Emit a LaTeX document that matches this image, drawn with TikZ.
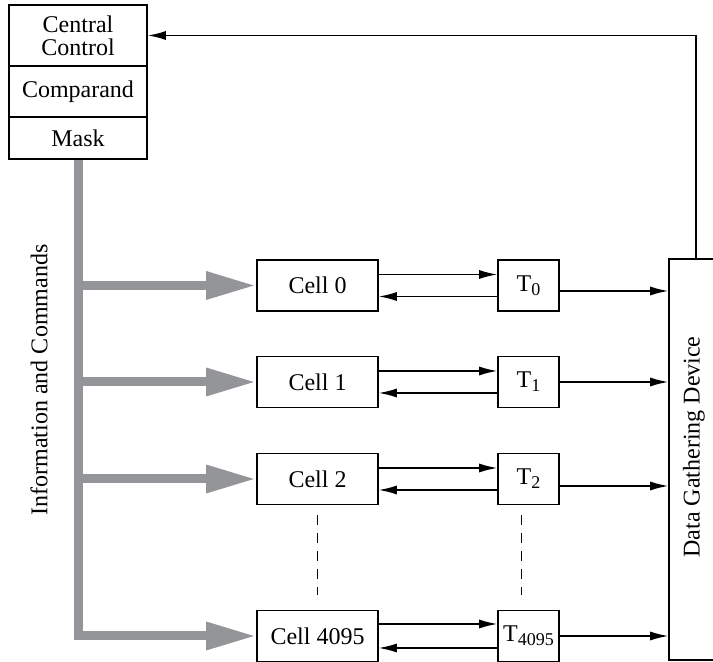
\documentclass[tikz,border=0pt]{standalone}
\usepackage{fontspec}
\setmainfont{Liberation Serif}
\usetikzlibrary{arrows.meta}

\definecolor{busgray}{RGB}{148,149,153}
\tikzset{
  box/.style={draw, black, line width=0.8pt, inner sep=0pt, align=center, font=\fontsize{12}{11.5}\selectfont},
  cellbox/.style={box, minimum width=60.5pt, minimum height=25.5pt},
  tbox/.style={box, minimum width=30.5pt, minimum height=25.5pt},
  bus/.style={busgray, line width=4.5pt, -{Triangle[length=25pt,width=13pt]}},
  sig/.style={black, line width=0.7pt, ->},
  rowlink/.style={black, line width=0.7pt, dash pattern=on 5pt off 4pt},
}
\newcommand{\tname}[1]{T\raisebox{-2pt}{\fontsize{9}{9}\selectfont #1}}

\begin{document}
\begin{tikzpicture}[x=0.5pt, y=-0.5pt, >={Latex[length=9pt,width=4.5pt]}]
 \useasboundingbox (0,0) rectangle (713,662);
 %control unit
 \node[box, minimum width=69pt, minimum height=30.5pt] (cc) at (78,35.5) {Central\\Control};
 \node[box, minimum width=69pt, minimum height=25.5pt] (comp) at (78,91.5) {Comparand};
 \node[box, minimum width=69pt, minimum height=21pt] (mask) at (78,138) {Mask};

 %cells
 \node[cellbox] (cell0) at (317.5,285.5) {Cell 0};
 \node[cellbox] (cell1) at (317.5,382) {Cell 1};
 \node[cellbox] (cell2) at (317.5,479) {Cell 2};
 \node[cellbox] (cell3) at (317.5,636) {Cell 4095};

 %T registers
 \node[tbox] (t0) at (528.5,285.5) {\tname{0}};
 \node[tbox] (t1) at (528.5,382) {\tname{1}};
 \node[tbox] (t2) at (528.5,479) {\tname{2}};
 \node[tbox] (t3) at (528.5,636) {\tname{4095}};

 %data gathering device
 \node[draw, black, line width=0.8pt, minimum width=27pt, minimum height=200.5pt, inner sep=0pt] (dgd) at (696,459.5) {};
 \node[rotate=90, font=\fontsize{12}{11.5}\selectfont] (dgdtext) at (694,447) {Data Gathering Device};

 %bus
 \node[rotate=90, font=\fontsize{12}{11.5}\selectfont] (buslabel) at (39,380) {Information and Commands};
 \draw[bus] (mask.south) -- (mask.south |- cell3.west) -- (cell3.west);
 \draw[bus] (mask.south |- cell0.west) -- (cell0.west);
 \draw[bus] (mask.south |- cell1.west) -- (cell1.west);
 \draw[bus] (mask.south |- cell2.west) -- (cell2.west);

 %cell <-> T
 \draw[sig] ([yshift=5.5pt]cell0.east) -- ([yshift=5.5pt]t0.west);
 \draw[sig] ([yshift=-5.5pt]t0.west) -- ([yshift=-5.5pt]cell0.east);
 \draw[sig] ([yshift=5.5pt]cell1.east) -- ([yshift=5.5pt]t1.west);
 \draw[sig] ([yshift=-5.5pt]t1.west) -- ([yshift=-5.5pt]cell1.east);
 \draw[sig] ([yshift=5.5pt]cell2.east) -- ([yshift=5.5pt]t2.west);
 \draw[sig] ([yshift=-5.5pt]t2.west) -- ([yshift=-5.5pt]cell2.east);
 \draw[sig] ([yshift=6pt]cell3.east) -- ([yshift=6pt]t3.west);
 \draw[sig] ([yshift=-6pt]t3.west) -- ([yshift=-6pt]cell3.east);

 %T -> data gathering device
 \draw[sig] ([yshift=-2.75pt]t0.east) -- ([yshift=-2.75pt]t0.east -| dgd.west);
 \draw[sig] (t1.east) -- (t1.east -| dgd.west);
 \draw[sig] ([yshift=-3.5pt]t2.east) -- ([yshift=-3.5pt]t2.east -| dgd.west);
 \draw[sig] (t3.east) -- (t3.east -| dgd.west);

 %feedback
 \draw[sig] (dgd.north) |- (cc.east);

 %dots between rows
 \draw[rowlink] ([yshift=-5pt]cell2.south) -- ([yshift=7.5pt]cell3.north);
 \draw[rowlink] ([xshift=-3.5pt, yshift=-5pt]t2.south) -- ([xshift=-3.5pt, yshift=7.5pt]t3.north);
\end{tikzpicture}
\end{document}
